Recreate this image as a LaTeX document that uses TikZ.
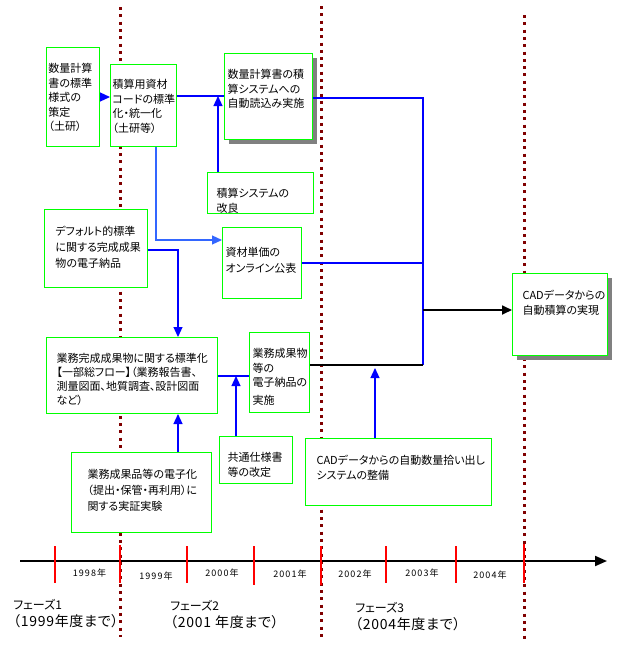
\documentclass[tikz,border=0pt]{standalone}
\usepackage{fontspec}
\setmainfont{Noto Sans CJK JP}
\newfontfamily\jpfont[RawFeature=+palt]{Noto Sans CJK JP}
\newfontfamily\yrfont[LetterSpace=12]{Noto Sans CJK JP}
\newfontfamily\phfont[RawFeature=+palt, LetterSpace=5]{Noto Sans CJK JP}
\usepackage{tikz}
\usetikzlibrary{arrows.meta,shadows}
\definecolor{phasered}{RGB}{128,0,0}
\definecolor{boxgreen}{RGB}{0,255,0}
\definecolor{lineblue}{RGB}{0,0,255}
\definecolor{lightblue}{RGB}{51,102,255}
\newcommand{\boxfont}{\jpfont\fontsize{11}{14.5}\selectfont}
\newcommand{\phaseuntil}[1]{{\phfont\fontsize{14}{17}\selectfont #1}}

\begin{document}
\begin{tikzpicture}[x=1pt, y=-1pt, >={Triangle[length=10pt,width=9pt]},
    box/.style={draw=boxgreen, line width=1pt, fill=white, anchor=north west,
      inner ysep=0pt, align=left, font=\boxfont},
    shbox/.style={box, drop shadow={shadow xshift=4pt, shadow yshift=-4pt, fill=black!50, opacity=1}},
    link/.style={draw=lineblue, line width=1.2pt},
    linklight/.style={draw=lightblue, line width=1.2pt},
    linkk/.style={draw=black, line width=1.3pt},
    phaseline/.style={draw=phasered, line width=3pt, dash pattern=on 3pt off 4.3pt},
    tick/.style={draw=red, line width=2pt},
    year/.style={inner sep=0pt, font=\yrfont\fontsize{9}{10}\selectfont},
    phase/.style={anchor=base west, inner sep=0pt, text width=130pt, align=left,
      font=\jpfont\fontsize{12}{17}\selectfont}]
  \useasboundingbox (0,0) rectangle (632,649);

  % phase borders
  \draw[phaseline] (120,7) -- (120,637);
  \draw[phaseline] (321,6) -- (321,637);
  \draw[phaseline] (524,15) -- (524,639);

  % boxes
  \node[box, inner xsep=2pt, text width=49pt, text height=25pt, text depth=74pt] (std) at (46,47)
    {数量計算\\書の標準\\様式の\\策定\\（土研）};
  \node[box, inner xsep=2pt, text width=62pt, text height=24pt, text depth=58pt] (code) at (110,64)
    {積算用資材\\コードの標準\\化・統一化\\（土研等）};
  \node[shbox, inner xsep=3pt, text width=82pt, text height=25pt, text depth=61pt] (autoread) at (224,53)
    {数量計算書の積\\算システムへの\\自動読込み実施};
  \node[box, inner xsep=9pt, text width=88pt, text height=25pt, text depth=16pt] (sysimp) at (207,172)
    {積算システムの\\改良};
  \node[box, inner xsep=3pt, text width=73pt, text height=29pt, text depth=42pt,
    font=\jpfont\fontsize{11}{16}\selectfont] (price) at (222,227)
    {資材単価の\\オンライン公表};
  \node[box, inner xsep=11pt, text width=81pt, text height=26pt, text depth=52pt,
    font=\jpfont\fontsize{11}{16}\selectfont] (deflt) at (44,209)
    {デフォルト的標準\\に関する完成成果\\物の電子納品};
  \node[box, inner xsep=10pt, text width=151pt, text height=25pt, text depth=51pt,
    font=\jpfont\fontsize{11}{14}\selectfont] (stdz) at (46,337)
    {業務完成成果物に関する標準化\\【一部総フロー】（業務報告書、\\測量図面、地質調査、設計図面\\など）};
  \node[box, inner xsep=16pt, text width=108pt, text height=26pt, text depth=54pt,
    font=\jpfont\fontsize{11}{16}\selectfont] (demo) at (71,452)
    {業務成果品等の電子化\\（提出・保管・再利用）に\\関する実証実験};
  \node[box, inner xsep=3pt, text width=54pt, text height=25pt, text depth=55pt] (edeliv) at (249,332)
    {業務成果物\\等の\\電子納品の\\[3.5pt]実施};
  \node[box, inner xsep=8pt, text width=57pt, text height=25pt, text depth=22pt] (spec) at (219,436)
    {共通仕様書\\等の改定};
  \node[box, inner xsep=11pt, text width=164pt, text height=26pt, text depth=41pt] (cadqty) at (305,438)
    {CADデータからの自動数量拾い出し\\システムの整備};
  \node[shbox, inner xsep=10pt, text width=75pt, text height=26pt, text depth=56pt] (cadauto) at (512,273)
    {CADデータからの\\自動積算の実現};

  % connectors
  \coordinate (bc) at (218,96);
  \coordinate (be) at (156,240);
  \coordinate (fg) at (178,250);
  \coordinate (gi) at (236,376);
  \coordinate (hubtop) at (423,98);
  \coordinate (hubmid) at (423,310);
  \coordinate (hubbot) at (423,365);
  \coordinate (kup) at (375,368);
  \draw[link,->] (std.east) -- (std.east -| code.west);
  \draw[link] (code.east |- bc) -- (bc -| autoread.west);
  \draw[link,->] (sysimp.north -| bc) -- (bc);
  \draw[linklight,->] (code.south -| be) |- (be -| price.west);
  \draw[link,->] (deflt.east |- fg) -| (stdz.north -| fg);
  \draw[link,->] (demo.north -| fg) -- (stdz.south -| fg);
  \draw[link] (stdz.east |- gi) -- (gi -| edeliv.west);
  \draw[link,->] (spec.north -| gi) -- (gi);
  \draw[link] (autoread.east |- hubtop) -- (hubtop) -- (hubbot);
  \draw[link] (price.east) -- (price.east -| hubtop);
  \draw[linkk] (edeliv.east |- hubbot) -- (hubbot);
  \draw[linkk, line width=1.7pt, ->] (hubmid) -- (hubmid -| cadauto.west);
  \draw[link,->] (cadqty.north -| kup) -- (kup);

  % time axis
  \coordinate (tstart) at (20,561);
  \coordinate (tend) at (607,561);
  \draw[line width=2pt, -{Triangle[length=12pt,width=10pt]}] (tstart) -- (tend);
  \draw[tick] (55,546) -- (55,583);
  \draw[tick] (120,545) -- (120,583);
  \draw[tick] (187,546) -- (187,583);
  \draw[tick] (254,546) -- (254,585);
  \draw[tick] (321,546) -- (321,585);
  \draw[tick] (386,546) -- (386,583);
  \draw[tick] (456,546) -- (456,583);
  \draw[tick] (524,544) -- (524,583);
  \node[year] (y1998) at (89.5,573) {1998年};
  \node[year] (y1999) at (156,576) {1999年};
  \node[year] (y2000) at (222,573) {2000年};
  \node[year] (y2001) at (290,574) {2001年};
  \node[year] (y2002) at (355,574) {2002年};
  \node[year] (y2003) at (422,573) {2003年};
  \node[year] (y2004) at (490,575) {2004年};

  % phases
  \node[phase] (ph1) at (13,609.5) {フェーズ1\\\phaseuntil{（1999年度まで）}};
  \node[phase] (ph2) at (170,610.5) {フェーズ2\\\phaseuntil{（2001 年度まで）}};
  \node[phase] (ph3) at (355,612) {フェーズ3\\\phaseuntil{（2004年度まで）}};
\end{tikzpicture}
\end{document}
